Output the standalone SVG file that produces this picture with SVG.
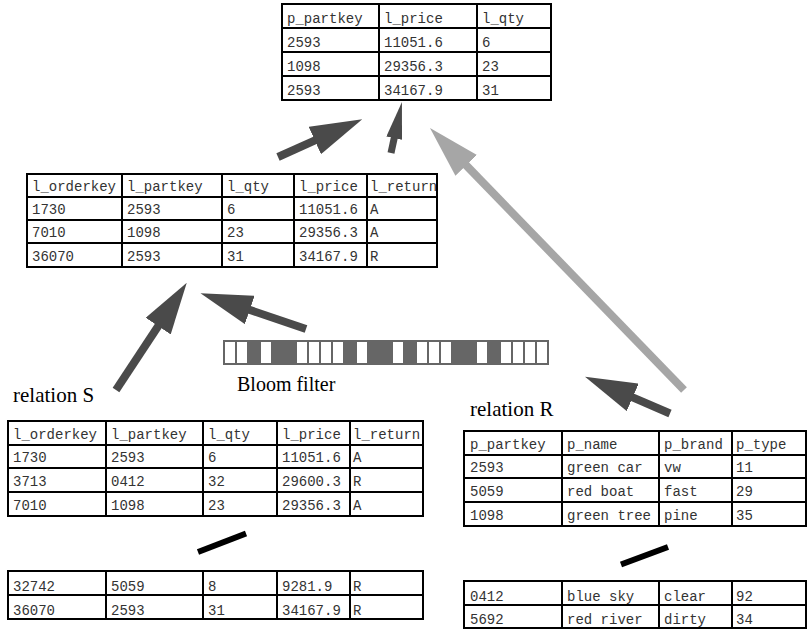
<svg xmlns="http://www.w3.org/2000/svg" width="809" height="634" viewBox="0 0 809 634">
<style>
.grid{fill:none;stroke:#000;stroke-width:2}
.t{font-family:"Liberation Mono","Courier New",monospace;font-size:14px;fill:#333}
.lbl{font-family:"Liberation Serif","Times New Roman",serif;fill:#000}
.dark{stroke:#4a4a4a;stroke-width:8;fill:none}
.small{stroke:#4a4a4a;stroke-width:7;fill:none}
.light{stroke:#a6a6a6;stroke-width:8;fill:none}
.dash{stroke:#000;stroke-width:6}
.cell{fill:#fff}
</style>
<defs>
<marker id="hd" markerUnits="userSpaceOnUse" viewBox="0 0 52 30" markerWidth="52" markerHeight="30" refX="2" refY="15" orient="auto"><path d="M0,0L52,15L0,30z" fill="#4a4a4a"/></marker>
<marker id="hs" markerUnits="userSpaceOnUse" viewBox="0 0 37 16" markerWidth="37" markerHeight="16" refX="2" refY="8" orient="auto"><path d="M0,0L37,8L0,16z" fill="#4a4a4a"/></marker>
<marker id="hl" markerUnits="userSpaceOnUse" viewBox="0 0 52 30" markerWidth="52" markerHeight="30" refX="2" refY="15" orient="auto"><path d="M0,0L52,15L0,30z" fill="#a6a6a6"/></marker>
<clipPath id="cm"><rect x="27" y="174" width="410" height="93"/></clipPath>
<clipPath id="cs"><rect x="8" y="421" width="415" height="95"/></clipPath>
</defs>

<g id="result">
<rect class="grid" x="282" y="4" width="269" height="96"/>
<path class="grid" d="M379,4V100M477,4V100M282,28H551M282,52H551M282,76H551"/>
<g class="t">
<text x="287" y="23">p_partkey</text><text x="384" y="23">l_price</text><text x="482" y="23">l_qty</text>
<text x="287" y="47">2593</text><text x="384" y="47">11051.6</text><text x="482" y="47">6</text>
<text x="287" y="71">1098</text><text x="384" y="71">29356.3</text><text x="482" y="71">23</text>
<text x="287" y="95">2593</text><text x="384" y="95">34167.9</text><text x="482" y="95">31</text>
</g>
</g>

<g id="filtered-s">
<g class="t" clip-path="url(#cm)">
<text x="32" y="191">l_orderkey</text><text x="127" y="191">l_partkey</text><text x="227" y="191">l_qty</text><text x="299" y="191">l_price</text><text x="370" y="191">l_return</text>
<text x="32" y="214">1730</text><text x="127" y="214">2593</text><text x="227" y="214">6</text><text x="299" y="214">11051.6</text><text x="370" y="214">A</text>
<text x="32" y="237">7010</text><text x="127" y="237">1098</text><text x="227" y="237">23</text><text x="299" y="237">29356.3</text><text x="370" y="237">A</text>
<text x="32" y="261">36070</text><text x="127" y="261">2593</text><text x="227" y="261">31</text><text x="299" y="261">34167.9</text><text x="370" y="261">R</text>
</g>
<rect class="grid" x="27" y="174" width="410" height="93"/>
<path class="grid" d="M122,174V267M222,174V267M294,174V267M367,174V267M27,197H437M27,220H437M27,243H437"/>
</g>

<g id="bloom-filter">
<rect x="223" y="340" width="326" height="25" fill="#666"/>
<g class="cell">
<rect x="225" y="342" width="10" height="21"/><rect x="237" y="342" width="10" height="21"/>
<rect x="261" y="342" width="10" height="21"/>
<rect x="297" y="342" width="10" height="21"/><rect x="309" y="342" width="10" height="21"/><rect x="321" y="342" width="10" height="21"/><rect x="333" y="342" width="10" height="21"/>
<rect x="357" y="342" width="10" height="21"/>
<rect x="393" y="342" width="10" height="21"/>
<rect x="417" y="342" width="10" height="21"/><rect x="429" y="342" width="10" height="21"/><rect x="441" y="342" width="10" height="21"/>
<rect x="477" y="342" width="10" height="21"/>
<rect x="501" y="342" width="10" height="21"/><rect x="513" y="342" width="10" height="21"/><rect x="525" y="342" width="10" height="21"/><rect x="537" y="342" width="10" height="21"/>
</g>
<text class="lbl" x="237" y="391" font-size="20">Bloom filter</text>
</g>

<g id="relation-s">
<text class="lbl" x="13" y="402" font-size="21">relation S</text>
<g class="t" clip-path="url(#cs)">
<text x="13" y="439">l_orderkey</text><text x="111" y="439">l_partkey</text><text x="208" y="439">l_qty</text><text x="282" y="439">l_price</text><text x="353" y="439">l_return</text>
<text x="13" y="462">1730</text><text x="111" y="462">2593</text><text x="208" y="462">6</text><text x="282" y="462">11051.6</text><text x="353" y="462">A</text>
<text x="13" y="486">3713</text><text x="111" y="486">0412</text><text x="208" y="486">32</text><text x="282" y="486">29600.3</text><text x="353" y="486">R</text>
<text x="13" y="510">7010</text><text x="111" y="510">1098</text><text x="208" y="510">23</text><text x="282" y="510">29356.3</text><text x="353" y="510">A</text>
</g>
<rect class="grid" x="8" y="421" width="415" height="95"/>
<path class="grid" d="M106,421V516M203,421V516M277,421V516M350,421V516M8,445H423M8,468H423M8,492H423"/>
</g>

<g id="relation-s-more">
<rect class="grid" x="8" y="571" width="415" height="48"/>
<path class="grid" d="M106,571V619M203,571V619M277,571V619M350,571V619M8,595H423"/>
<g class="t">
<text x="13" y="591">32742</text><text x="111" y="591">5059</text><text x="208" y="591">8</text><text x="282" y="591">9281.9</text><text x="353" y="591">R</text>
<text x="13" y="615">36070</text><text x="111" y="615">2593</text><text x="208" y="615">31</text><text x="282" y="615">34167.9</text><text x="353" y="615">R</text>
</g>
</g>

<g id="relation-r">
<text class="lbl" x="470" y="416" font-size="21">relation R</text>
<rect class="grid" x="464" y="431" width="342" height="95"/>
<path class="grid" d="M562,431V526M659,431V526M732,431V526M464,455H806M464,478H806M464,502H806"/>
<g class="t">
<text x="470" y="449">p_partkey</text><text x="567" y="449">p_name</text><text x="664" y="449">p_brand</text><text x="736" y="449">p_type</text>
<text x="470" y="472">2593</text><text x="567" y="472">green car</text><text x="664" y="472">vw</text><text x="736" y="472">11</text>
<text x="470" y="496">5059</text><text x="567" y="496">red boat</text><text x="664" y="496">fast</text><text x="736" y="496">29</text>
<text x="470" y="520">1098</text><text x="567" y="520">green tree</text><text x="664" y="520">pine</text><text x="736" y="520">35</text>
</g>
</g>

<g id="relation-r-more">
<rect class="grid" x="464" y="581" width="342" height="47"/>
<path class="grid" d="M562,581V628M659,581V628M732,581V628M464,605H806"/>
<g class="t">
<text x="470" y="601">0412</text><text x="567" y="601">blue sky</text><text x="664" y="601">clear</text><text x="736" y="601">92</text>
<text x="470" y="624">5692</text><text x="567" y="624">red river</text><text x="664" y="624">dirty</text><text x="736" y="624">34</text>
</g>
</g>

<g id="connectors">
<line class="dark" x1="278" y1="157" x2="316.65" y2="139.7" marker-end="url(#hd)"/>
<line class="small" x1="391" y1="153" x2="394.6" y2="136.2" marker-end="url(#hs)"/>
<line class="dark" x1="116" y1="390" x2="159.25" y2="324.45" marker-end="url(#hd)"/>
<line class="dark" x1="306" y1="329" x2="247.85" y2="309.3" marker-end="url(#hd)"/>
<line class="dark" x1="670" y1="413.5" x2="630.9" y2="396.55" marker-end="url(#hd)"/>
<line class="light" x1="684" y1="390" x2="464.8" y2="163.9" marker-end="url(#hl)"/>
<line class="dash" x1="198" y1="552" x2="246" y2="533.5"/>
<line class="dash" x1="621" y1="564.5" x2="668" y2="547"/>
</g>
</svg>
